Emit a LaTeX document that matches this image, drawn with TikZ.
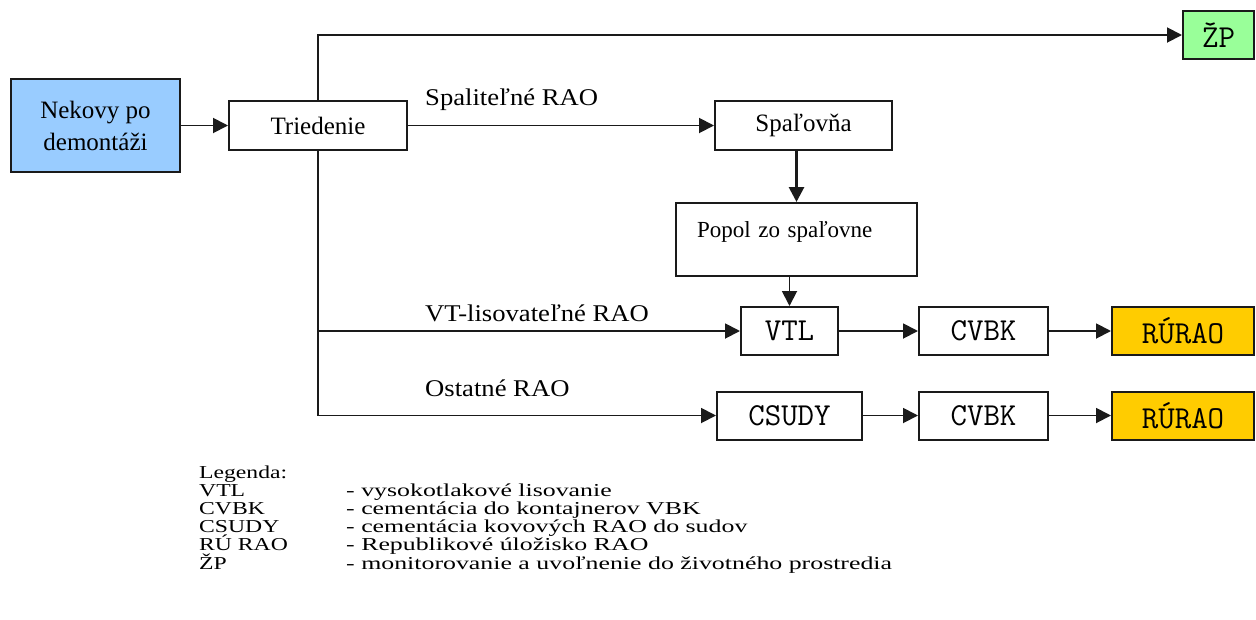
\documentclass[tikz,border=0pt]{standalone}
\usepackage{fontspec}
\setmainfont{Liberation Serif}
\newfontfamily\branchfont[FakeStretch=1.11]{Liberation Serif}
\newfontfamily\legendfont[FakeStretch=1.3]{Liberation Serif}
\newfontfamily\legenddescfont[FakeStretch=1.42]{Liberation Serif}
\usepackage{tikz}
\usetikzlibrary{arrows.meta,positioning,calc}
\definecolor{nekovyblue}{HTML}{99CCFF}
\definecolor{zpgreen}{HTML}{99FF99}
\definecolor{raoyellow}{HTML}{FFCC00}
\definecolor{linegray}{HTML}{1A1A1A}

\begin{document}
\begin{tikzpicture}[x=1pt, y=-1pt,
    block/.style={rectangle, draw=linegray, line width=2pt, fill=white, inner sep=0pt, text centered},
    serifbox/.style={block, font=\fontsize{25}{32}\selectfont},
    codebox/.style={block, font=\ttfamily\fontsize{32}{34}\selectfont, minimum height=48pt},
    flow/.style={-{Triangle[length=15pt,width=15pt]}, draw=linegray, line width=1.9pt},
    branch/.style={anchor=west, inner sep=0pt, font=\branchfont\fontsize{24}{28}\selectfont},
    legendtxt/.style={anchor=base west, inner sep=0pt, font=\legendfont\fontsize{18.2}{18}\selectfont},
    legenddesc/.style={legendtxt, font=\legenddescfont\fontsize{18.2}{18}\selectfont}
]
\useasboundingbox (0,0) rectangle (1256,619);

% Entities
\node[serifbox, fill=nekovyblue, minimum width=169pt, minimum height=93pt, align=center] (nekovy) at (95.5,125.5) {Nekovy po\\demontáži};
\node[serifbox, minimum width=178pt, minimum height=49pt] (triedenie) at (318,125.5) {Triedenie};
\node[serifbox, minimum width=177pt, minimum height=49pt] (spalovna) at (803.5,125.5) {Spaľovňa};
\node[codebox, fill=zpgreen, minimum width=71pt] (zp) at (1218.5,35) {ŽP};
\node[block, font=\fontsize{23}{27}\selectfont, minimum width=241pt, minimum height=73pt, text width=199pt, align=left, inner xsep=21pt, text height=16pt, text depth=20pt] (popol) at (796.5,239.5) {Popol zo spaľovne};

\node[codebox, minimum width=97pt] (vtl) at (789.5,331) {VTL};
\node[codebox, minimum width=129pt] (cvbkvt) at (983.5,331) {CVBK};
\node[codebox, fill=raoyellow, minimum width=142pt] (ruraovt) at (1183,331) {RÚRAO};
\node[codebox, minimum width=145pt] (csudy) at (789.5,415.5) {CSUDY};
\node[codebox, minimum width=129pt] (cvbkost) at (983.5,415.5) {CVBK};
\node[codebox, fill=raoyellow, minimum width=142pt] (ruraoost) at (1183,415.5) {RÚRAO};

% Branch labels
\node[branch] (spallbl) at (425,100) {Spaliteľné RAO};
\node[branch] (vtlbl) at (425,313) {VT-lisovateľné RAO};
\node[branch] (ostlbl) at (425,388) {Ostatné RAO};

% Connectors
\coordinate (vtsplit) at (triedenie.south |- vtl.west);
\draw[flow] (nekovy) -- (triedenie);
\draw[flow] (triedenie.north) |- (zp);
\draw[flow] (triedenie) -- (spalovna);
\draw[flow, line width=2.8pt] (popol.north |- spalovna.south) -- (popol.north);
\draw[flow] (vtl.north |- popol.south) -- (vtl.north);
\draw[flow] (triedenie.south) |- (csudy);
\draw[flow] (vtsplit) -- (vtl);
\foreach \from/\to in {vtl/cvbkvt, cvbkvt/ruraovt, csudy/cvbkost, cvbkost/ruraoost}
    \draw[flow] (\from) -- (\to);

% Legend
\node[legendtxt] (legenda) at (199,478) {Legenda:};
\foreach \abbr/\desc [count=\i] in {VTL/- vysokotlakové lisovanie,
        CVBK/- cementácia do kontajnerov VBK,
        CSUDY/- cementácia kovových RAO do sudov,
        RÚ RAO/- Republikové úložisko RAO,
        ŽP/- monitorovanie a uvoľnenie do životného prostredia} {
    \node[legendtxt] (abbr\i) at (199,{478+\i*18.2}) {\abbr};
    \node[legenddesc] (desc\i) at (346,{478+\i*18.2}) {\desc};
}

\end{tikzpicture}
\end{document}
